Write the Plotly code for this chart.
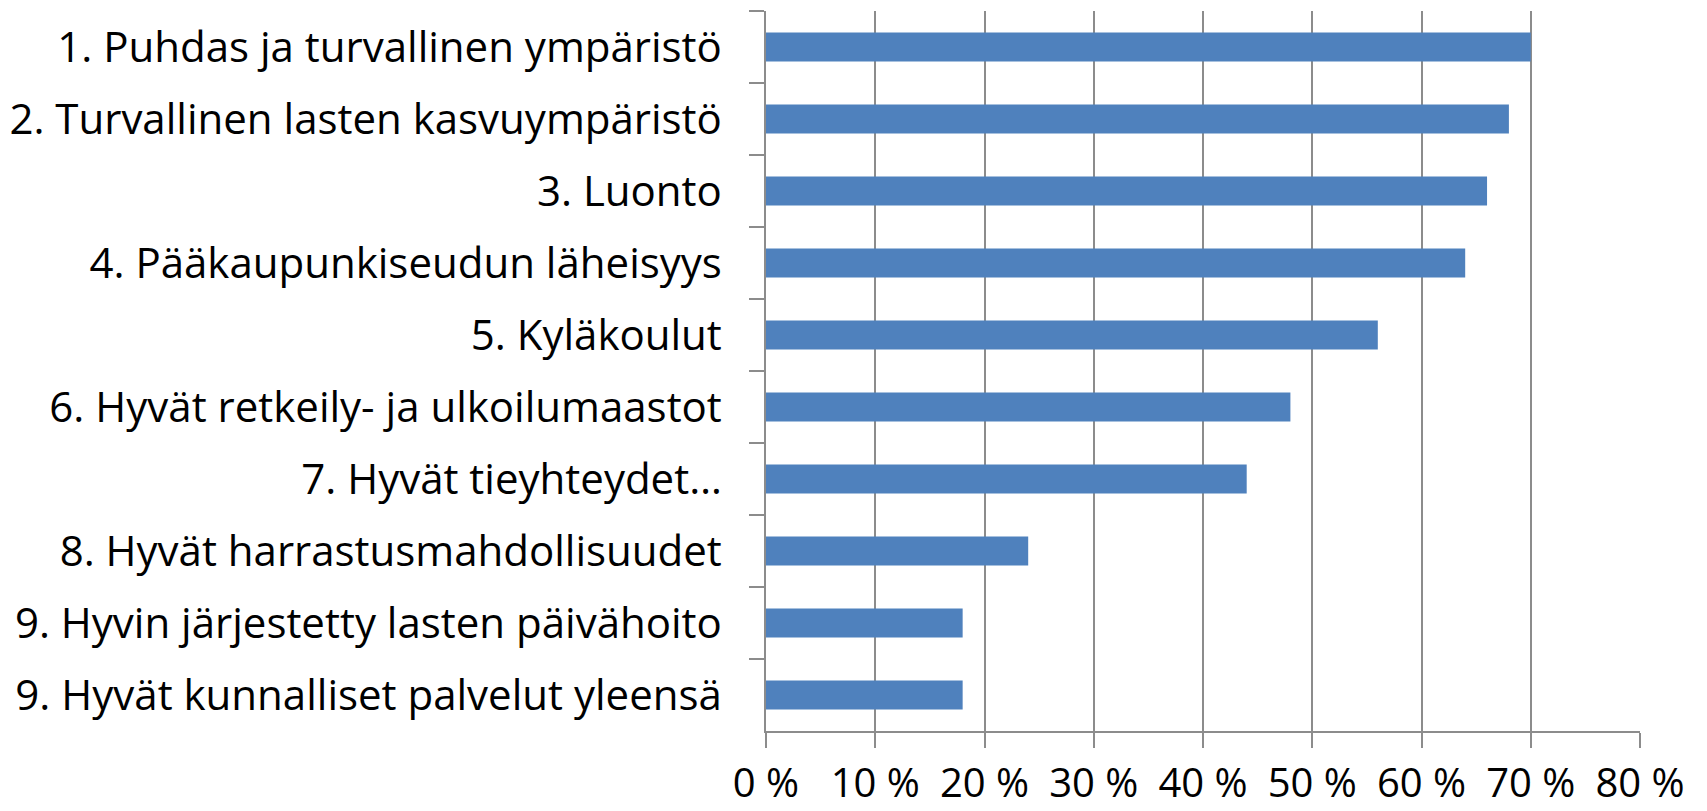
import plotly.graph_objects as go

categories = [
    "1. Puhdas ja turvallinen ympäristö",
    "2. Turvallinen lasten kasvuympäristö",
    "3. Luonto",
    "4. Pääkaupunkiseudun läheisyys",
    "5. Kyläkoulut",
    "6. Hyvät retkeily- ja ulkoilumaastot",
    "7. Hyvät tieyhteydet…",
    "8. Hyvät harrastusmahdollisuudet",
    "9. Hyvin järjestetty lasten päivähoito",
    "9. Hyvät kunnalliset palvelut yleensä",
]
values = [70, 68, 66, 64, 56, 48, 44, 24, 18, 18]
x_ticks = [0, 10, 20, 30, 40, 50, 60, 70, 80]
x_tick_labels = ["0 %", "10 %", "20 %", "30 %", "40 %", "50 %", "60 %", "70 %", "80 %"]

GRID = "#8c8c8c"
FONT = "Open Sans, sans-serif"

# the page body has an 8px default margin; compensate so the plot lands where the reference's does
fig = go.Figure(
    go.Bar(
        x=values,
        y=categories,
        orientation="h",
        marker=dict(color="#4F81BD", line=dict(width=0)),
        width=0.4,
        hoverinfo="x+y",
    )
)

fig.update_layout(
    width=1699,
    height=803,
    margin=dict(l=758, r=66.6, t=2.7, b=80.3, autoexpand=False),
    paper_bgcolor="white",
    plot_bgcolor="white",
    showlegend=False,
    font=dict(family=FONT, color="black"),
)

fig.update_xaxes(
    range=[0, 80],
    tickvals=x_ticks,
    ticktext=x_tick_labels,
    showgrid=True,
    gridcolor=GRID,
    gridwidth=1.5,
    zeroline=False,
    showline=True,
    linecolor=GRID,
    linewidth=1.5,
    ticks="outside",
    ticklen=15,
    tickwidth=1.5,
    tickcolor=GRID,
    tickfont=dict(size=40, family=FONT, color="black"),
    ticklabelstandoff=1,
    automargin=False,
)

fig.update_yaxes(
    type="category",
    categoryorder="array",
    categoryarray=categories,
    autorange="reversed",
    showgrid=False,
    zeroline=False,
    showline=True,
    linecolor=GRID,
    linewidth=1.5,
    ticks="outside",
    tickson="boundaries",
    ticklen=15,
    tickwidth=1.5,
    tickcolor=GRID,
    tickfont=dict(size=42, family=FONT, color="black"),
    ticklabelstandoff=34,
    automargin=False,
)

fig.write_html("out.html")
